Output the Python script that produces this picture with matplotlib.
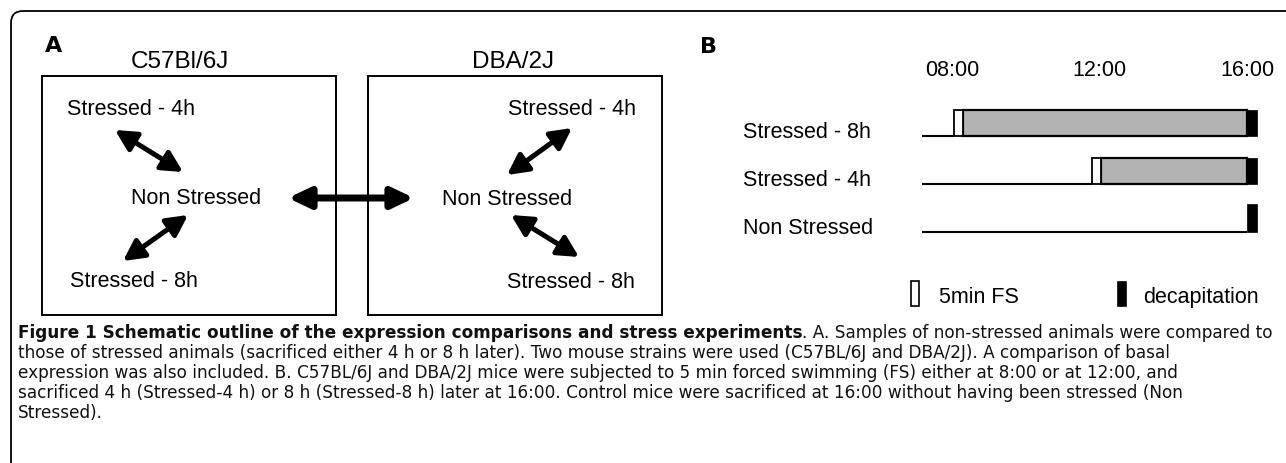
import matplotlib
matplotlib.use("Agg")
import matplotlib.pyplot as plt
from matplotlib.patches import FancyBboxPatch, FancyArrowPatch, Rectangle
from matplotlib.transforms import blended_transform_factory


# data

strains = ["C57Bl/6J", "DBA/2J"]
groups_a = ["Stressed - 4h", "Non Stressed", "Stressed - 8h"]

groups_b = ["Stressed - 8h", "Stressed - 4h", "Non Stressed"]
fs_start = [8.05, 11.8, None]      # hour of the 5 min forced swim
fs_len = 0.25
decap_time = 16.0
decap_len = 0.27
line_start = 7.19
tick_hours = [8, 12, 16]
tick_labels = ["08:00", "12:00", "16:00"]

legend_labels = ["5min FS", "decapitation"]

caption_bold = "Figure 1 Schematic outline of the expression comparisons and stress experiments"
caption_lines = [
    ". A. Samples of non-stressed animals were compared to",
    "those of stressed animals (sacrificed either 4 h or 8 h later). Two mouse strains were used (C57BL/6J and DBA/2J). A comparison of basal",
    "expression was also included. B. C57BL/6J and DBA/2J mice were subjected to 5 min forced swimming (FS) either at 8:00 or at 12:00, and",
    "sacrificed 4 h (Stressed-4 h) or 8 h (Stressed-8 h) later at 16:00. Control mice were sacrificed at 16:00 without having been stressed (Non",
    "Stressed).",
]


# figure in pixel coordinates

W, H = 1286, 464
fig = plt.figure(figsize=(W / 100, H / 100), dpi=100)
ax = fig.add_axes([0, 0, 1, 1])
ax.set_xlim(0, W)
ax.set_ylim(H, 0)
ax.axis("off")

PF = "Liberation Sans"
FS = 15.5

# outer rounded frame (runs off the right and bottom edges)
ax.add_patch(FancyBboxPatch((11, 12), 1400, 520,
                            boxstyle="round,pad=0,rounding_size=12",
                            fc="none", ec="black", lw=1.3, clip_on=False))


# panel A

ax.text(45, 52, "A", fontsize=16, fontweight="bold", family="DejaVu Sans", va="baseline")

box_x = [42, 368]
title_x = [180, 513]
for x0, tx, name in zip(box_x, title_x, strains):
    ax.add_patch(Rectangle((x0, 77), 294, 239, fc="none", ec="black", lw=1.4))
    ax.text(tx, 68, name, family=PF, fontsize=17.5, ha="center", va="baseline")

# left box labels
ax.text(131, 115, groups_a[0], family=PF, fontsize=FS, ha="center", va="baseline")
ax.text(196, 204, groups_a[1], family=PF, fontsize=FS, ha="center", va="baseline")
ax.text(134, 287, groups_a[2], family=PF, fontsize=FS, ha="center", va="baseline")
# right box labels
ax.text(572, 115, groups_a[0], family=PF, fontsize=FS, ha="center", va="baseline")
ax.text(507, 205, groups_a[1], family=PF, fontsize=FS, ha="center", va="baseline")
ax.text(571, 288, groups_a[2], family=PF, fontsize=FS, ha="center", va="baseline")


def arrow(p, q, lw=3.6, hl=1.25, hw=0.65):
    ax.add_patch(FancyArrowPatch(p, q,
                                 arrowstyle=f"<|-|>,head_length={hl},head_width={hw}",
                                 mutation_scale=10, lw=lw, color="black",
                                 shrinkA=0, shrinkB=0))


arrow((115, 131), (183, 173))
arrow((188, 216), (123, 262))
arrow((572, 129), (507, 176))
arrow((511, 216), (579, 258))
arrow((288, 199), (414, 199), lw=5, hl=1.3, hw=0.62)


# panel B

ax.text(700, 53, "B", fontsize=16, fontweight="bold", family="DejaVu Sans", va="baseline")

px_per_h = (1247 - 952) / 8
bx0, bx1 = 900, 1270
by0, by1 = 60, 320
row_px = 48
axB = fig.add_axes([bx0 / W, 1 - by1 / H, (bx1 - bx0) / W, (by1 - by0) / H])
axB.set_xlim(8 + (bx0 - 952) / px_per_h, 8 + (bx1 - 952) / px_per_h)
axB.set_ylim((by1 - 137) / row_px, (by0 - 137) / row_px)
axB.axis("off")

bar_h = 0.55
for i, (name, fs) in enumerate(zip(groups_b, fs_start)):
    end_line = fs if fs is not None else decap_time
    axB.plot([line_start, end_line], [i, i], color="black", lw=1.5,
             solid_capstyle="butt")
    if fs is not None:
        axB.add_patch(Rectangle((fs + fs_len, i - bar_h), decap_time - fs - fs_len, bar_h,
                                fc="#b3b3b3", ec="black", lw=1.6))
        axB.add_patch(Rectangle((fs, i - bar_h), fs_len, bar_h,
                                fc="white", ec="black", lw=1.3))
    extra = 0.03 if fs is None else 0
    axB.add_patch(Rectangle((decap_time, i - bar_h - extra), decap_len, bar_h + extra,
                            fc="black", ec="black", lw=0.5))

for h, lab in zip(tick_hours, tick_labels):
    axB.text(h, -1.27, lab, family=PF, fontsize=FS, ha="center", va="baseline")

tr = blended_transform_factory(ax.transData, axB.transData)
for i, name in enumerate(groups_b):
    ax.text(743, i + 0.03, name, family=PF, fontsize=FS, ha="left", va="baseline",
            transform=tr)

# legend
ax.add_patch(Rectangle((911, 282), 8, 25, fc="white", ec="black", lw=1.2))
ax.text(939, 303, legend_labels[0], family=PF, fontsize=FS, va="baseline")
ax.add_patch(Rectangle((1117, 282), 9, 25, fc="black", ec="black", lw=0.5))
ax.text(1143, 303, legend_labels[1], family=PF, fontsize=FS, va="baseline")


# caption

CF = "DejaVu Sans"
CS = 12.2
r = fig.canvas.get_renderer()
t = ax.text(18, 338, caption_bold, family=CF, fontsize=CS, fontweight="bold",
            va="baseline", color="#111111")
bb = t.get_window_extent(r)
x_end = ax.transData.inverted().transform((bb.x1, bb.y0))[0]
ax.text(x_end, 338, caption_lines[0], family=CF, fontsize=CS, va="baseline",
        color="#111111")
for k, line in enumerate(caption_lines[1:], start=1):
    ax.text(18, 338 + 19.9 * k, line, family=CF, fontsize=CS, va="baseline",
            color="#111111")

fig.savefig("out.png", dpi=100)
